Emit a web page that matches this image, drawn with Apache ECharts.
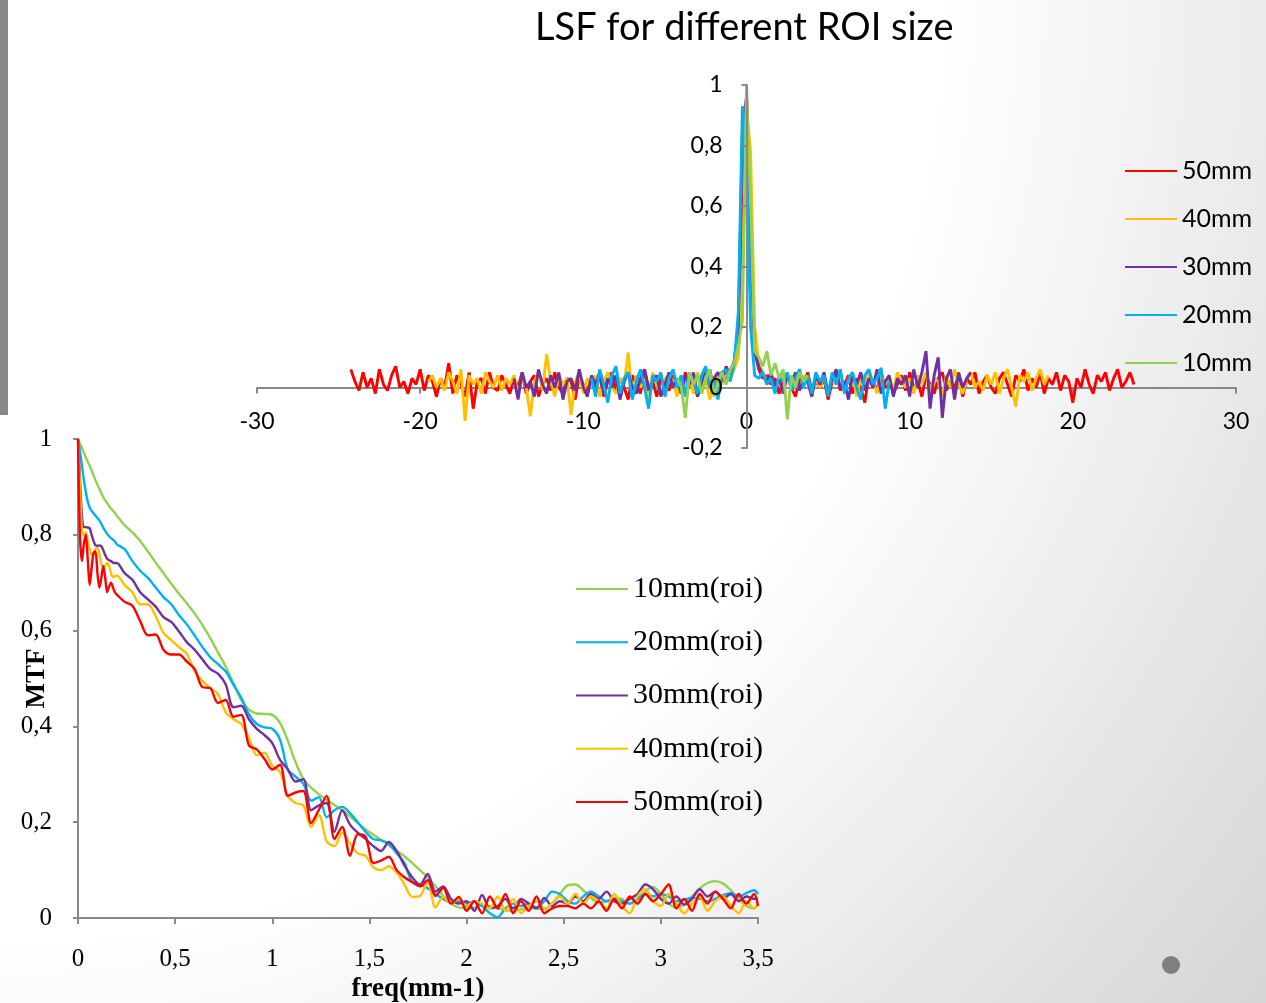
<!DOCTYPE html>
<html>
<head>
<meta charset="utf-8">
<script src="https://cdn.jsdelivr.net/npm/echarts@6/dist/echarts.min.js"></script>
<style>
html,body{margin:0;padding:0;width:1266px;height:1003px;overflow:hidden;}
body{background:radial-gradient(circle at 0% 0%, #ffffff 58%, #d5d5d5 100%);}
#chart{position:absolute;left:0;top:0;width:1266px;height:1003px;}
#bar{position:absolute;left:0;top:0;width:8px;height:415px;background:#898989;}
#dot{position:absolute;left:1162px;top:956px;width:18px;height:18px;border-radius:50%;background:#7f7f7f;}
</style>
</head>
<body>
<div id="bar"></div>
<div id="dot"></div>
<div id="chart"></div>
<script>
// ---------- LSF (top chart) ----------
const lsfStep = 0.25;
const lsfNames = ['50mm', '40mm', '30mm', '20mm', '10mm'];
const lsf50Start = -24.25;
const lsf50 = [0.06,0.02,-0.01,0.05,0.0,0.03,-0.02,0.06,0.01,-0.01,0.04,0.07,0.0,0.02,-0.02,0.03,0.01,0.06,-0.01,0.04,
0.02,-0.03,0.03,0.0,0.08,-0.02,0.04,0.01,-0.03,0.05,-0.07,0.02,0.03,-0.02,0.05,0.0,-0.01,0.04,0.01,-0.02,
0.03,0.0,0.05,-0.02,0.02,0.04,-0.03,0.01,0.03,-0.01,0.05,0.0,-0.02,0.03,0.02,-0.04,0.04,0.01,-0.01,0.03,
0.0,0.04,-0.03,0.02,0.05,-0.01,0.03,0.0,-0.04,0.04,0.01,-0.02,0.06,0.0,0.02,-0.03,0.03,0.01,-0.01,0.04,
0.02,-0.02,0.05,0.0,0.03,-0.03,0.04,0.01,0.06,-0.01,0.03,0.05,0.02,0.06,0.08,
0.12,0.5,0.97,0.6,0.12,
0.06,0.03,0.04,0.01,0.03,-0.02,0.02,0.04,0.0,-0.03,0.03,0.01,0.05,-0.01,0.02,0.0,
0.03,-0.04,0.02,0.05,-0.01,0.01,0.04,-0.02,0.03,0.0,-0.05,0.04,0.02,-0.01,0.05,0.0,0.03,-0.02,0.01,0.04,
-0.01,0.05,0.0,0.02,-0.03,0.04,0.01,-0.02,0.03,0.05,-0.01,0.02,0.0,0.04,-0.03,0.03,0.01,0.05,-0.02,0.02,
0.04,0.0,-0.02,0.03,0.05,0.01,-0.03,0.04,0.02,0.06,-0.01,0.03,0.0,0.05,-0.02,
0.03,0.01,0.05,-0.01,0.04,0.02,-0.05,0.03,0.0,0.06,0.01,-0.02,0.04,0.02,0.05,-0.01,0.03,0.06,0.0,0.02,0.05,0.01];
const lsf40Start = -19.5;
const lsf40 = [0.02,0.04,0.0,0.03,-0.01,0.05,0.02,-0.02,0.06,-0.11,0.04,0.01,0.03,-0.02,0.05,0.02,0.0,0.04,-0.01,0.03,
0.01,0.04,-0.02,0.03,0.0,-0.095,0.02,0.05,-0.01,0.11,0.02,-0.03,0.04,0.01,0.03,-0.09,0.02,0.05,-0.02,0.03,
0.0,0.04,-0.03,0.02,0.05,0.0,-0.02,0.03,0.01,0.115,-0.03,0.04,0.0,0.02,-0.04,0.05,0.01,-0.02,0.03,0.04,
0.02,-0.03,0.04,0.01,0.03,-0.02,0.05,0.0,0.03,-0.04,0.02,0.04,0.01,0.05,0.03,0.06,0.1,0.35,
0.92,0.78,0.2,
0.08,0.05,0.02,0.04,0.0,0.03,-0.02,0.05,0.01,0.03,-0.01,0.04,0.02,-0.03,0.03,0.0,
0.04,-0.02,0.03,0.01,0.05,-0.01,0.02,0.04,-0.03,0.03,0.0,0.05,0.02,-0.02,0.04,0.01,0.03,-0.01,0.05,0.02,
0.0,0.03,-0.02,0.04,0.01,0.05,-0.01,0.03,0.02,-0.03,0.04,0.0,0.06,0.01,-0.02,0.03,0.05,0.0,0.02,-0.01,
0.04,0.01,0.05,-0.02,0.03,0.06,0.0,-0.063,0.04,0.02,0.05,-0.01,0.03,0.06,0.01,0.04];
const lsf30Start = -14.25;
const lsf30 = [0.03,-0.04,0.05,0.0,0.02,-0.03,0.06,0.01,-0.02,0.04,0.0,0.05,-0.04,0.02,0.03,-0.01,0.06,0.0,-0.03,0.04,
0.01,0.05,-0.02,0.03,0.0,0.04,-0.04,0.02,0.05,0.0,-0.02,0.03,0.06,-0.01,0.02,0.04,-0.03,0.01,0.05,0.0,
0.03,-0.02,0.04,0.01,0.05,-0.03,0.02,0.06,0.0,0.03,0.05,0.02,0.07,0.04,0.09,
0.2,0.85,0.96,0.45,0.12,
0.07,0.04,0.02,0.05,0.0,0.03,-0.02,0.04,0.01,0.05,-0.01,0.03,0.02,-0.03,0.04,0.01,
0.05,-0.02,0.03,0.06,0.0,0.02,-0.04,0.04,0.01,0.05,-0.01,0.03,0.0,0.06,-0.02,0.02,0.04,-0.03,0.03,0.01,
0.04,-0.03,0.06,0.0,0.05,0.12,-0.07,0.04,0.1,-0.1,0.03,0.06,-0.04,0.05,0.0,0.03,0.05];
const lsf20Start = -9.5;
const lsf20 = [0.03,-0.03,0.06,0.01,-0.05,0.04,0.07,-0.02,0.03,0.05,-0.04,0.02,0.06,0.0,-0.07,0.04,0.02,0.05,-0.03,0.03,
0.06,0.0,0.04,-0.03,0.05,0.02,-0.02,0.04,0.07,0.0,0.03,-0.04,0.05,0.06,0.02,0.08,
0.25,0.93,0.75,0.2,0.04,
0.03,0.05,0.01,0.03,-0.02,0.04,0.02,0.05,-0.01,0.03,0.06,0.0,0.04,-0.02,0.05,0.02,
0.04,-0.03,0.05,0.01,0.06,-0.02,0.03,0.05,0.0,-0.04,0.04,0.06,0.01,0.03,0.065,-0.07,0.02];
const lsf10Start = -4.25;
const lsf10 = [0.03,0.0,-0.1,0.05,0.01,0.04,-0.02,0.03,0.06,-0.03,0.02,0.05,0.01,0.06,0.08,
0.14,0.22,1.0,0.6,0.12,
0.1,0.07,0.12,0.04,0.08,0.03,0.06,-0.105,0.04,0.0,0.05,0.02,0.04];

// ---------- MTF (bottom chart) ----------
const mtfNames = ['10mm(roi)', '20mm(roi)', '30mm(roi)', '40mm(roi)', '50mm(roi)'];
const freq = [0,0.01,0.02,0.03,0.04,0.05,0.06,0.07,0.08,0.09,0.1,0.11,0.12,0.13,0.14,0.15,0.16,0.17,0.18,0.19,0.2,
0.24,0.28,0.32,0.36,0.4,0.44,0.48,0.52,0.56,0.6,0.64,0.68,0.72,0.76,0.8,0.84,0.88,0.92,0.96,1,
1.04,1.08,1.12,1.16,1.2,1.24,1.28,1.32,1.36,1.4,1.44,1.48,1.52,1.56,1.6,1.64,1.68,1.72,1.76,1.8,1.84,1.88,1.92,1.96,2,
2.04,2.08,2.12,2.16,2.2,2.24,2.28,2.32,2.36,2.4,2.44,2.48,2.52,2.56,2.6,2.64,2.68,2.72,2.76,2.8,2.84,2.88,2.92,2.96,3,
3.04,3.08,3.12,3.16,3.2,3.24,3.28,3.32,3.36,3.4,3.44,3.48,3.5];
const mtf10 = [1,0.99,0.981,0.972,0.962,0.953,0.944,0.934,0.924,0.914,0.905,0.896,0.887,0.879,0.872,0.866,0.86,0.855,0.85,0.845,0.84,
0.82,0.805,0.787,0.765,0.742,0.72,0.698,0.677,0.657,0.636,0.612,0.585,0.555,0.525,0.49,0.455,0.435,0.427,0.426,0.424,
0.407,0.37,0.325,0.29,0.272,0.258,0.247,0.236,0.225,0.212,0.198,0.185,0.174,0.163,0.152,0.14,0.129,0.115,0.1,0.085,0.066,0.046,0.03,0.022,0.02,
0.022,0.026,0.025,0.02,0.016,0.015,0.018,0.022,0.02,0.018,0.03,0.05,0.068,0.07,0.058,0.042,0.032,0.035,0.042,0.04,0.03,0.035,0.055,0.065,0.05,
0.03,0.022,0.028,0.045,0.062,0.073,0.077,0.072,0.058,0.04,0.025,0.02,0.028];
const mtf20 = [1,0.975,0.945,0.915,0.89,0.87,0.857,0.85,0.845,0.84,0.835,0.83,0.823,0.815,0.808,0.802,0.797,0.793,0.79,0.786,0.78,
0.77,0.745,0.725,0.71,0.69,0.67,0.655,0.632,0.613,0.59,0.566,0.545,0.53,0.515,0.487,0.46,0.425,0.405,0.398,0.395,
0.372,0.31,0.295,0.28,0.245,0.252,0.21,0.225,0.232,0.219,0.2,0.18,0.165,0.162,0.155,0.135,0.115,0.075,0.07,0.062,0.05,0.04,0.032,0.035,0.03,
0.035,0.025,0.01,0.002,0.02,0.03,0.025,0.03,0.022,0.035,0.055,0.05,0.035,0.03,0.045,0.055,0.045,0.035,0.04,0.035,0.03,0.04,0.05,0.045,0.05,
0.045,0.035,0.038,0.042,0.04,0.035,0.04,0.048,0.052,0.045,0.052,0.058,0.05];
const mtf30 = [1,0.92,0.84,0.816,0.816,0.815,0.814,0.8,0.787,0.778,0.777,0.778,0.776,0.768,0.758,0.75,0.747,0.745,0.742,0.741,0.741,
0.72,0.706,0.68,0.665,0.65,0.628,0.618,0.598,0.576,0.56,0.54,0.52,0.51,0.488,0.44,0.443,0.415,0.395,0.382,0.365,
0.33,0.31,0.285,0.29,0.225,0.235,0.24,0.18,0.225,0.195,0.178,0.165,0.15,0.14,0.159,0.14,0.11,0.085,0.069,0.092,0.055,0.066,0.04,0.03,0.035,
0.015,0.048,0.02,0.025,0.04,0.02,0.04,0.03,0.02,0.042,0.025,0.035,0.03,0.045,0.035,0.05,0.04,0.055,0.035,0.03,0.04,0.05,0.07,0.06,0.04,
0.03,0.045,0.028,0.04,0.06,0.045,0.055,0.04,0.05,0.035,0.045,0.04,0.04];
const mtf40 = [1,0.9,0.81,0.8,0.805,0.79,0.77,0.758,0.76,0.77,0.772,0.76,0.74,0.733,0.735,0.741,0.735,0.72,0.712,0.713,0.715,
0.695,0.68,0.655,0.655,0.63,0.595,0.58,0.565,0.552,0.515,0.495,0.48,0.468,0.43,0.415,0.405,0.375,0.34,0.345,0.318,
0.305,0.255,0.24,0.235,0.19,0.215,0.16,0.15,0.178,0.155,0.135,0.13,0.106,0.1,0.108,0.095,0.07,0.044,0.046,0.075,0.022,0.044,0.03,0.04,0.025,
0.035,0.03,0.02,0.045,0.015,0.04,0.01,0.025,0.035,0.02,0.03,0.045,0.03,0.05,0.03,0.045,0.035,0.02,0.05,0.025,0.01,0.045,0.06,0.035,0.025,
0.05,0.03,0.01,0.03,0.045,0.015,0.035,0.045,0.025,0.01,0.035,0.02,0.03];
const mtf50 = [1,0.8,0.745,0.78,0.8,0.75,0.695,0.73,0.762,0.765,0.72,0.69,0.71,0.735,0.71,0.68,0.692,0.7,0.69,0.68,0.675,
0.66,0.652,0.62,0.59,0.592,0.56,0.55,0.55,0.535,0.52,0.482,0.48,0.449,0.455,0.42,0.424,0.36,0.352,0.332,0.31,
0.32,0.255,0.262,0.265,0.198,0.226,0.255,0.165,0.19,0.13,0.175,0.17,0.115,0.12,0.128,0.1,0.085,0.075,0.066,0.079,0.046,0.063,0.03,0.044,0.015,
0.035,0.01,0.045,0.02,0.05,0.01,0.035,0.015,0.045,0.01,0.02,0.025,0.025,0.02,0.03,0.02,0.035,0.015,0.04,0.02,0.045,0.03,0.05,0.035,0.05,
0.07,0.02,0.04,0.015,0.05,0.03,0.055,0.04,0.02,0.05,0.03,0.05,0.025];

const colRed = '#FF0000', colYellow = '#FFC000', colPurple = '#7030A0', colBlue = '#00B0F0', colGreen = '#92D050';

function lsfPairs(start, vals) { return vals.map((v, i) => [start + i * lsfStep, v]); }
function mtfPairs(vals) { return vals.map((v, i) => [freq[i], v]); }
const comma = v => String(Math.round(v * 1000) / 1000).replace('.', ',');

const axisGray = '#898989';
const sansFont = 'Lato';
const serifFont = 'Liberation Serif';

const chart = echarts.init(document.getElementById('chart'), null, {renderer: 'canvas'});
const topSeries = [
  {name: lsfNames[0], start: lsf50Start, vals: lsf50, color: colRed},
  {name: lsfNames[1], start: lsf40Start, vals: lsf40, color: colYellow},
  {name: lsfNames[2], start: lsf30Start, vals: lsf30, color: colPurple},
  {name: lsfNames[3], start: lsf20Start, vals: lsf20, color: colBlue},
  {name: lsfNames[4], start: lsf10Start, vals: lsf10, color: colGreen}
].map(s => ({
  type: 'line', name: s.name, xAxisIndex: 0, yAxisIndex: 0,
  data: lsfPairs(s.start, s.vals), showSymbol: false, symbol: 'none',
  lineStyle: {color: s.color, width: 2.9}, itemStyle: {color: s.color}
}));
const botSeries = [
  {name: mtfNames[0], vals: mtf10, color: colGreen},
  {name: mtfNames[1], vals: mtf20, color: colBlue},
  {name: mtfNames[2], vals: mtf30, color: colPurple},
  {name: mtfNames[3], vals: mtf40, color: colYellow},
  {name: mtfNames[4], vals: mtf50, color: colRed}
].map(s => ({
  type: 'line', name: s.name, xAxisIndex: 1, yAxisIndex: 1,
  data: mtfPairs(s.vals), showSymbol: false, symbol: 'none', smooth: 0.3,
  lineStyle: {color: s.color, width: 2.4}, itemStyle: {color: s.color}
}));

chart.setOption({
  backgroundColor: 'transparent',
  animation: false,
  title: {
    text: 'LSF for different ROI size', left: 535, top: 9, padding: 0,
    textStyle: {fontFamily: sansFont, fontSize: 38, fontWeight: 'normal', color: '#000'}
  },
  grid: [
    {left: 257, top: 85, width: 979, height: 363, outerBoundsMode: 'none', containLabel: false},
    {left: 78, top: 439, width: 680, height: 479, outerBoundsMode: 'none', containLabel: false}
  ],
  xAxis: [
    {
      gridIndex: 0, type: 'value', min: -30, max: 30, interval: 10, position: 'bottom', offset: -60.5,
      axisLine: {onZero: false, lineStyle: {color: axisGray, width: 2}},
      axisTick: {show: true, length: 6, lineStyle: {color: axisGray, width: 2}},
      axisLabel: {margin: 23, hideOverlap: false, fontFamily: sansFont, fontSize: 23, color: '#000', formatter: comma},
      splitLine: {show: false}
    },
    {
      gridIndex: 1, type: 'value', min: 0, max: 3.5, interval: 0.5,
      name: 'freq(mm-1)', nameLocation: 'middle', nameGap: 58, nameMoveOverlap: false,
      nameTextStyle: {fontFamily: serifFont, fontSize: 27, fontWeight: 'bold', color: '#000'},
      axisLine: {onZero: false, lineStyle: {color: axisGray, width: 2}},
      axisTick: {show: true, length: 6, lineStyle: {color: axisGray, width: 2}},
      axisLabel: {margin: 29, fontFamily: serifFont, fontSize: 25, color: '#000', formatter: comma},
      splitLine: {show: false}
    }
  ],
  yAxis: [
    {
      gridIndex: 0, type: 'value', min: -0.2, max: 1, interval: 0.2, position: 'left', offset: -489.5, z: 5,
      axisLine: {show: true, onZero: false, lineStyle: {color: axisGray, width: 2}},
      axisTick: {show: true, length: 5, lineStyle: {color: axisGray, width: 2}},
      axisLabel: {margin: 24, hideOverlap: false, fontFamily: sansFont, fontSize: 23, color: '#000', formatter: comma},
      splitLine: {show: false}
    },
    {
      gridIndex: 1, type: 'value', min: 0, max: 1, interval: 0.2,
      name: 'MTF', nameLocation: 'middle', nameGap: 27, nameRotate: 90, nameMoveOverlap: false,
      nameTextStyle: {fontFamily: serifFont, fontSize: 27, fontWeight: 'bold', color: '#000'},
      axisLine: {show: true, onZero: false, lineStyle: {color: axisGray, width: 2}},
      axisTick: {show: true, length: 5, lineStyle: {color: axisGray, width: 2}},
      axisLabel: {margin: 26, fontFamily: serifFont, fontSize: 25, color: '#000', formatter: comma},
      splitLine: {show: false}
    }
  ],
  legend: [
    {
      data: lsfNames, orient: 'vertical', left: 1125, top: 158, padding: 0,
      icon: 'rect', itemWidth: 52, itemHeight: 2, itemGap: 22,
      textStyle: {fontFamily: sansFont, fontSize: 25, color: '#000', lineHeight: 26}
    },
    {
      data: mtfNames, orient: 'vertical', left: 576, top: 573, padding: 0,
      icon: 'rect', itemWidth: 52, itemHeight: 2, itemGap: 21.25,
      textStyle: {fontFamily: serifFont, fontSize: 30, color: '#000', lineHeight: 32}
    }
  ],
  series: topSeries.concat(botSeries)
});
</script>
</body>
</html>
